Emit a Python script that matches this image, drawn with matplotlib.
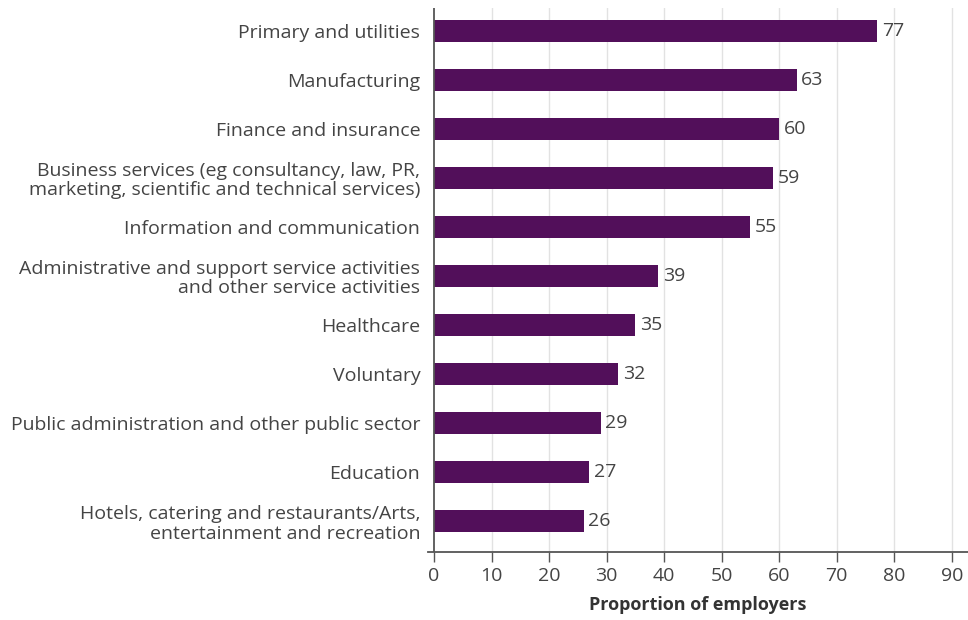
import numpy as np
import matplotlib.pyplot as plt

sectors = [
    'Primary and utilities',
    'Manufacturing',
    'Finance and insurance',
    'Business services (eg consultancy, law, PR,\nmarketing, scientific and technical services)',
    'Information and communication',
    'Administrative and support service activities\nand other service activities',
    'Healthcare',
    'Voluntary',
    'Public administration and other public sector',
    'Education',
    'Hotels, catering and restaurants/Arts,\nentertainment and recreation',
]
share = [77, 63, 60, 59, 55, 39, 35, 32, 29, 27, 26]
xticks = np.arange(0, 100, 10)

bar_col = '#520f5a'
txt_col = '#444444'

plt.rcParams['font.family'] = ['Open Sans', 'DejaVu Sans']

fig = plt.figure(figsize=(9.68, 6.2), dpi=100)
ax = fig.add_axes([428/968, 1 - 552/620, 1 - 428/968, (552 - 8)/620])

y = np.arange(len(sectors))
ax.barh(y, share, height=0.45, color=bar_col, zorder=3)
for yi, v in zip(y, share):
    ax.text(v + 0.8, yi, str(v), va='center', ha='left', fontsize=14, color=txt_col)

ax.set_xlim(-1.04, 92.8)
ax.set_ylim(10.63, -0.47)
ax.set_yticks(y)
ax.set_yticklabels(sectors, fontsize=14, color=txt_col, linespacing=1.1)
ax.set_xticks(xticks)
ax.set_xticklabels([str(t) for t in xticks], fontsize=14, color=txt_col)
ax.tick_params(axis='y', length=0, pad=5.5)
ax.tick_params(axis='x', length=7, width=1, color='#555555', pad=4)

# light vertical grid, dark zero line
for t in xticks[1:]:
    ax.axvline(t, color='#e2e2e2', lw=1, zorder=1)
ax.axvline(0, color='#555555', lw=1.3, zorder=4)

for s in ['top', 'right', 'left']:
    ax.spines[s].set_visible(False)
ax.spines['bottom'].set_color('#555555')
ax.spines['bottom'].set_linewidth(1.3)

ax.set_xlabel('Proportion of employers', fontsize=13, fontweight='bold',
              color='#333333', labelpad=8)

fig.savefig('out.png', dpi=100)
